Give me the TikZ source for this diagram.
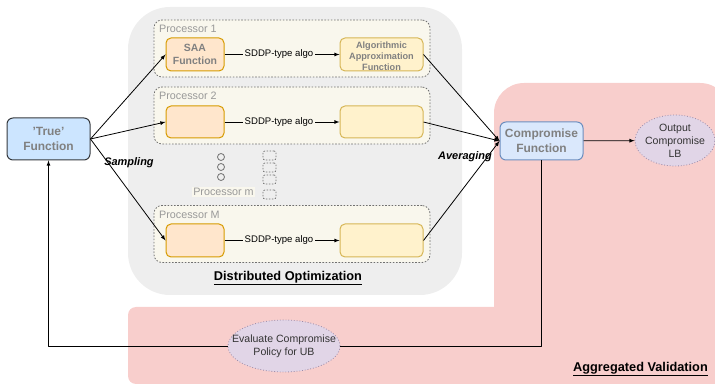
\documentclass[tikz,border=0pt]{standalone}
\usepackage{fontspec}
\setmainfont{Liberation Sans}
\usetikzlibrary{shapes.geometric}
\definecolor{graybg}{HTML}{EEEEEE}
\definecolor{pinkbg}{HTML}{F8CECC}
\definecolor{procfill}{HTML}{F9F7ED}
\definecolor{procdraw}{HTML}{707070}
\definecolor{saafill}{HTML}{FFE6CC}
\definecolor{saadraw}{HTML}{D79B00}
\definecolor{apxfill}{HTML}{FFF2CC}
\definecolor{apxdraw}{HTML}{D6B656}
\definecolor{truefill}{HTML}{CCE5FF}
\definecolor{truedraw}{HTML}{36393D}
\definecolor{compfill}{HTML}{DAE8FC}
\definecolor{compdraw}{HTML}{6C8EBF}
\definecolor{ellfill}{HTML}{E1D5E7}
\definecolor{elldraw}{HTML}{9A8AA8}
\definecolor{boxtext}{HTML}{808080}
\definecolor{proctext}{HTML}{999999}
\begin{document}
\begin{tikzpicture}[>=latex,line join=bevel,
  procbox/.style={draw=procdraw,fill=procfill,dash pattern=on 1.6bp off 1.6bp,line width=0.8bp,rounded corners=8bp,minimum width=276bp,minimum height=57bp,inner sep=0pt},
  proclabel/.style={anchor=west,inner sep=1bp,text=proctext,font=\fontsize{10.8}{12}\selectfont},
  saabox/.style={draw=saadraw,fill=saafill,line width=1bp,rounded corners=5bp,minimum width=58bp,minimum height=33bp,inner sep=0pt,align=center,text=boxtext,font=\bfseries\fontsize{10.5}{13}\selectfont},
  apxbox/.style={draw=apxdraw,fill=apxfill,line width=1bp,rounded corners=5bp,minimum width=83bp,minimum height=33bp,inner sep=0pt,align=center,text=boxtext,font=\bfseries\fontsize{9.2}{11}\selectfont},
  funcbox/.style={line width=1bp,rounded corners=6bp,minimum width=83bp,inner sep=0pt,align=center,text=boxtext,font=\bfseries\fontsize{12}{15}\selectfont},
  oval/.style={ellipse,draw=elldraw,fill=ellfill,dotted,line width=0.8bp,inner sep=0pt},
  ovaltext/.style={inner sep=0pt,align=center,text=black!80,font=\fontsize{10.6}{13}\selectfont},
  algolabel/.style={inner sep=2bp,font=\fontsize{9.6}{11}\selectfont},
  sidelabel/.style={inner sep=0pt,font=\bfseries\itshape\fontsize{11}{13}\selectfont},
  regionlabel/.style={inner sep=0pt,font=\bfseries\fontsize{12.8}{15}\selectfont},
  dotbox/.style={draw=procdraw,dash pattern=on 1.5bp off 1.5bp,line width=0.7bp,rounded corners=2bp,minimum width=13bp,minimum height=9bp,inner sep=0pt},
  ]
\useasboundingbox (0bp,0bp) rectangle (715bp,384bp);
%% regions
\fill [pinkbg,rounded corners=30bp] (494bp,-10bp) rectangle (730bp,301bp);
\fill [pinkbg,rounded corners=8bp] (128bp,0bp) rectangle (730bp,77bp);
\fill [graybg,rounded corners=42bp] (128bp,89bp) rectangle (462bp,377bp);
%% processors
\node (proc_1) at (292bp,335.5bp) [procbox] {};
\node (proc_2) at (292bp,268.5bp) [procbox] {};
\node (proc_M) at (292bp,150bp) [procbox] {};
\node (lbl_1) at (158bp,355bp) [proclabel] {Processor 1};
\node (lbl_2) at (158bp,288bp) [proclabel] {Processor 2};
\node (lbl_M) at (158bp,169bp) [proclabel] {Processor M};
\node (lbl_m) at (223.5bp,192bp) [proclabel,anchor=center,fill=procfill] {Processor m};
%% dots
\foreach \yy in {227,217,207}
  \draw [procdraw,line width=0.8bp] (221bp,\yy bp) circle (3.5bp);
\foreach \yy in {228.5,216.5,204.5,189.5}
  \node at (269.5bp,\yy bp) [dotbox] {};
%% boxes
\node (saa_1) at (195bp,329.5bp) [saabox] {SAA\\Function};
\node (apx_1) at (381.5bp,329.5bp) [apxbox] {};
\node at (381.5bp,327.5bp) [apxbox,draw=none,fill=none] {Algorithmic\\Approximation\\Function};
\node (saa_2) at (195bp,262bp) [saabox,minimum height=32bp] {};
\node (apx_2) at (381.5bp,262bp) [apxbox,minimum height=32bp] {};
\node (saa_M) at (195bp,143.5bp) [saabox] {};
\node (apx_M) at (381.5bp,143.5bp) [apxbox] {};
\node (true_fn) at (48.5bp,245bp) [funcbox,draw=truedraw,fill=truefill,minimum height=42bp] {'True'\\Function};
\node (comp_fn) at (541.5bp,243bp) [funcbox,draw=compdraw,fill=compfill,minimum height=38bp] {Compromise\\Function};
\node (out_lb) at (675bp,243.5bp) [oval,minimum width=80bp,minimum height=51bp] {};
\node at (out_lb) [ovaltext] {Output\\Compromise\\LB};
\node (eval_ub) at (284bp,38bp) [oval,minimum width=112bp,minimum height=52bp] {};
\node at (eval_ub) [ovaltext] {Evaluate Compromise\\Policy for UB};
%% algo labels
\node (algo_1) at (279bp,329.5bp) [algolabel,fill=procfill] {SDDP-type algo};
\node (algo_2) at (279bp,262bp) [algolabel,fill=procfill] {SDDP-type algo};
\node (algo_M) at (279bp,143.5bp) [algolabel,fill=procfill] {SDDP-type algo};
\draw [black,line width=0.8bp] (saa_1) -- (algo_1);
\draw [black,line width=0.8bp,->] (algo_1) -- (apx_1);
\draw [black,line width=0.8bp] (saa_2) -- (algo_2);
\draw [black,line width=0.8bp,->] (algo_2) -- (apx_2);
\draw [black,line width=0.8bp] (saa_M) -- (algo_M);
\draw [black,line width=0.8bp,->] (algo_M) -- (apx_M);
%% sampling and averaging
\draw [black,line width=0.8bp,->] (true_fn.east) -- (saa_1.west);
\draw [black,line width=0.8bp,->] (true_fn.east) -- (saa_2.west);
\draw [black,line width=0.8bp,->] (true_fn.east) -- (saa_M.west);
\draw [black,line width=0.8bp,->] (apx_1.east) -- (comp_fn.west);
\draw [black,line width=0.8bp,->] (apx_2.east) -- (comp_fn.west);
\draw [black,line width=0.8bp,->] (apx_M.east) -- (comp_fn.west);
\node (sampling) at (129bp,221bp) [sidelabel] {Sampling};
\node (averaging) at (465bp,227bp) [sidelabel] {Averaging};
%% validation
\draw [black,line width=0.8bp,->] (comp_fn) -- (out_lb);
\draw [black,line width=0.8bp] (comp_fn.south) |- (eval_ub.east);
\draw [black,line width=0.8bp,->] (eval_ub.west) -| (true_fn.south);
%% region titles
\node (dist_lbl) at (288bp,106bp) [regionlabel] {\underline{Distributed Optimization}};
\node (agg_lbl) at (640.5bp,15bp) [regionlabel] {\underline{Aggregated Validation}};
%
\end{tikzpicture}
\end{document}
